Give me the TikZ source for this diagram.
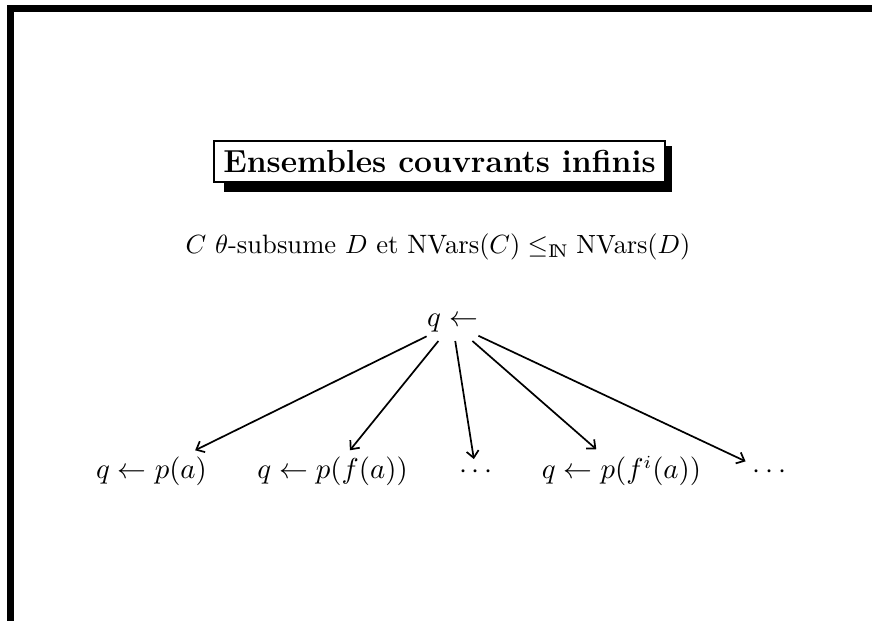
\documentclass[tikz,border=0pt]{standalone}
\usetikzlibrary{arrows.meta}

\begin{document}
\begin{tikzpicture}[
    x=0.38pt, y=-0.38pt,
    font=\fontsize{10.5}{12.6}\selectfont,
    term/.style={inner sep=2.5pt, anchor=base},
    titlebox/.style={draw, line width=0.75pt, fill=white, inner sep=0pt, minimum width=171.4pt, minimum height=15.6pt, font=\fontsize{12.1}{14}\selectfont\bfseries},
    arrow/.style={-{Straight Barb[length=2.6pt,width=4.6pt]}, line width=0.65pt}
  ]
    \useasboundingbox (0,0) rectangle (872,621);
    % slide frame
    \fill (7,5) rectangle (872,12);
    \fill (7,5) rectangle (14,621);
    % title with shadow
    \fill (224,146) rectangle (672,192);
    \node[titlebox] (title) at (439.5,161.5) {Ensembles couvrants infinis};
    \node[anchor=base, font=\fontsize{10.1}{12}\selectfont] (cond) at (438,254) {$C$ $\theta$-subsume $D$ et NVars$(C) \leq_{\mathrm{I\!N}} \mathrm{NVars}(D)$};

    \node[term, inner xsep=0pt, inner ysep=3pt] (root) at (452.5,327) {$q \leftarrow$};
    \node[term] (pa) at (151.5,479) {$q \leftarrow p(a)$};
    \node[term] (pfa) at (332.5,479) {$q \leftarrow p(f(a))$};
    \node[term] (dotsa) at (476,479) {$\cdots$};
    \node[term] (pfia) at (621.5,479) {$q \leftarrow p(f^i(a))$};
    \node[term] (dotsb) at (769.5,479) {$\cdots$};

    \foreach \leaf in {pa,pfa,dotsa,pfia,dotsb}
      \draw[arrow] (root) -- (\leaf);
\end{tikzpicture}
\end{document}
